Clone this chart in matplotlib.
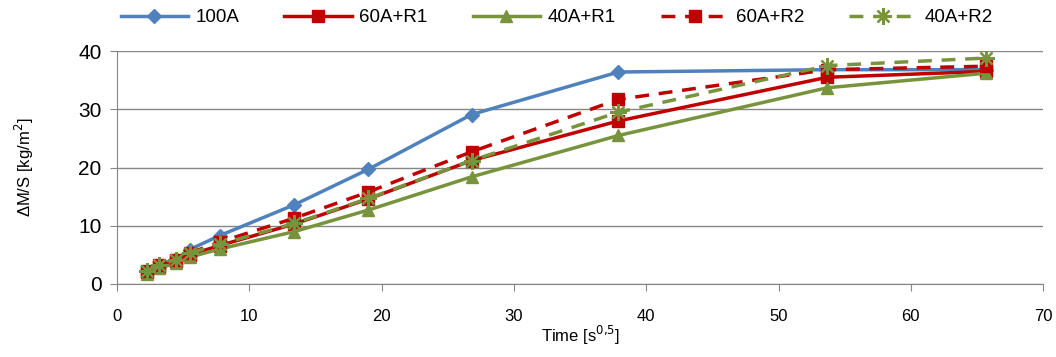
import matplotlib.pyplot as plt

plt.rcParams['font.family'] = ['Liberation Sans', 'DejaVu Sans']

# time axis (square root of seconds)
time = [2.24, 3.16, 4.47, 5.48, 7.75, 13.4, 19.0, 26.8, 37.9, 53.7, 65.7]

a100 = [2.3, 3.3, 4.3, 5.9, 8.3, 13.6, 19.7, 29.1, 36.4, 36.8, 36.8]
a60_r1 = [2.0, 3.0, 3.9, 5.0, 6.6, 10.3, 14.6, 21.2, 28.0, 35.5, 36.5]
a40_r1 = [1.8, 2.7, 3.6, 4.6, 6.0, 9.0, 12.7, 18.4, 25.5, 33.7, 36.2]
a60_r2 = [2.2, 3.3, 4.2, 5.3, 7.2, 11.3, 15.8, 22.7, 31.7, 36.8, 37.4]
a40_r2 = [2.3, 3.2, 4.2, 5.3, 6.8, 10.4, 14.7, 21.2, 29.5, 37.5, 38.8]

blue = "#4F81BD"
red = "#C00000"
green = "#77933C"
grey = "#868686"

fig = plt.figure(figsize=(10.56, 3.57), dpi=100)
ax = fig.add_axes([0.1108, 0.2045, 0.877, 0.6525])

dash = (0, (4, 2.8))
ax.plot(time, a100, c=blue, lw=2.5, marker="D", ms=7, label="100A")
ax.plot(time, a60_r1, c=red, lw=2.5, marker="s", ms=9, label="60A+R1")
ax.plot(time, a40_r1, c=green, lw=2.5, marker="^", ms=9, label="40A+R1")
ax.plot(time, a60_r2, c=red, lw=2.5, ls=dash, marker="s", ms=9, label="60A+R2")
ax.plot(time, a40_r2, c=green, lw=2.5, ls=dash, marker=(8, 2, 0), ms=12,
        mew=1.6, label="40A+R2")

ax.set_xlim(0, 70)
ax.set_ylim(0, 40)
ax.set_xticks(range(0, 71, 10))
ax.set_yticks(range(0, 41, 10))
ax.yaxis.grid(True, color=grey, lw=1)
ax.set_axisbelow(True)
for side in ["top", "right"]:
    ax.spines[side].set_visible(False)
for side in ["left", "bottom"]:
    ax.spines[side].set_color(grey)
ax.tick_params(axis="both", color=grey, length=5, direction="out")
ax.tick_params(axis="x", labelsize=12, pad=13)
ax.tick_params(axis="y", labelsize=15, pad=6)

ax.set_xlabel("Time [s$^{0{,}5}$]", fontsize=12, labelpad=0)
ax.set_ylabel("ΔM/S [kg/m$^{2}$]", fontsize=12)
ax.yaxis.set_label_coords(-0.088, 0.5)

fig.legend(loc="center", bbox_to_anchor=(0.527, 0.95), ncol=5, frameon=False,
           fontsize=13.5, handlelength=3.6, columnspacing=2.4, handletextpad=0.4)

fig.savefig("out.png", dpi=100)
